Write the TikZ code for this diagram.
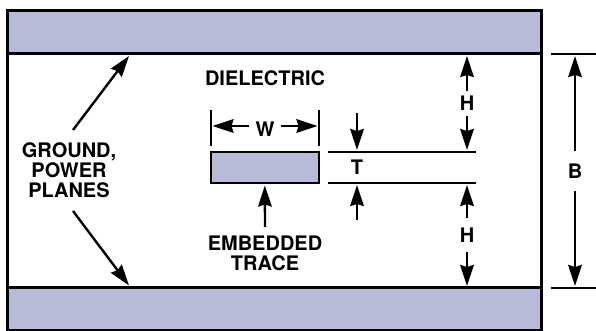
\documentclass[tikz,border=0pt]{standalone}
\usepackage{fontspec}
\setmainfont{TeX Gyre Heros}
\usetikzlibrary{arrows.meta}

\tikzset{
    plane/.style={draw=black, line width=2.8pt, fill=planeblue, inner sep=0pt, outer sep=0pt},
    dimline/.style={draw=black, line width=1.7pt},
    dimarrow/.style={draw=black, line width=2.4pt, -{Stealth[length=21pt, width=13.5pt, inset=2pt]}},
    dimlabel/.style={inner sep=0pt, outer sep=0pt, font=\fontsize{20}{20}\selectfont\bfseries, text height=14pt, text depth=0pt},
    textlabel/.style={inner sep=0pt, outer sep=0pt, align=center, font=\fontsize{20}{20}\selectfont\bfseries}
}
\definecolor{planeblue}{HTML}{B7BBD7}

\begin{document}
\begin{tikzpicture}[x=1pt, y=-1pt]
        \useasboundingbox (0,0) rectangle (596,331);

        % Draw the planes and the frame
        \node[plane, minimum width=534.3pt, minimum height=43pt] (topplane) at (274.45,32.2) {};
        \node[plane, minimum width=534.3pt, minimum height=42.3pt] (bottomplane) at (274.45,308.85) {};
        \draw[line width=2.8pt] (topplane.south west) -- (bottomplane.north west);
        \draw[line width=2.8pt] (topplane.south east) -- (bottomplane.north east);

        % Draw the trace
        \node[plane, line width=2pt, minimum width=108.3pt, minimum height=30.7pt] (trace) at (264.85,167.35) {};

        % Draw the text labels
        \node[textlabel] (dielectric) at (265,78) {DIELECTRIC};
        \node[textlabel] (groundlabel) at (69,170) {GROUND,\\POWER\\PLANES};
        \node[textlabel] (embedlabel) at (265,253) {EMBEDDED\\TRACE};

        % Draw the plane arrows
        \coordinate (upstart) at (73,130);
        \coordinate (uptip) at (129,56);
        \coordinate (downstart) at (73,211);
        \coordinate (downtip) at (129,285.5);
        \draw[dimarrow] (upstart) -- (uptip);
        \draw[dimarrow] (downstart) -- (downtip);
        \draw[dimarrow] (265,227) coordinate (embedstart) -- (trace.south |- 0,185.5);

        % Draw the extension lines
        \foreach \name/\xa/\ya/\xb/\yb in {wl/211/110/211/146, wr/319/110/319/146, ta/328/152/476/152, tb/328/183/476/183, bt/551/54/596/54, bb/551/288/596/288} {
            \coordinate (\name a) at (\xa,\ya);
            \coordinate (\name b) at (\xb,\yb);
            \draw[dimline] (\name a) -- (\name b);
        }

        % Draw W
        \node[dimlabel, text height=22pt, minimum width=32pt] (wlabel) at (265,126) {W};
        \coordinate (wlefttip) at (212.5,126);
        \coordinate (wrighttip) at (317.5,126);
        \draw[dimarrow] (wlabel.west) -- (wlefttip);
        \draw[dimarrow] (wlabel.east) -- (wrighttip);

        % Draw T
        \node[dimlabel] (tlabel) at (357,168) {T};
        \coordinate (tupstart) at (357,113);
        \coordinate (tuptip) at (357,150);
        \coordinate (tdownstart) at (357,220);
        \coordinate (tdowntip) at (357,185);
        \draw[dimarrow] (tupstart) -- (tuptip);
        \draw[dimarrow] (tdownstart) -- (tdowntip);

        % Draw H, twice
        \node[dimlabel, minimum height=25.5pt] (hupper) at (467,103.5) {H};
        \node[dimlabel, minimum height=34pt] (hlower) at (467,235) {H};
        \coordinate (hatip) at (467,56);
        \coordinate (hbtip) at (467,150);
        \coordinate (hctip) at (467,185);
        \coordinate (hdtip) at (467,286);
        \draw[dimarrow] (hupper.north) -- (hatip);
        \draw[dimarrow] (hupper.south) -- (hbtip);
        \draw[dimarrow] (hlower.north) -- (hctip);
        \draw[dimarrow] (hlower.south) -- (hdtip);

        % Draw B
        \node[dimlabel, minimum height=40pt] (blabel) at (575,171) {B};
        \coordinate (btoptip) at (575,56);
        \coordinate (bbottip) at (575,286);
        \draw[dimarrow] (blabel.north) -- (btoptip);
        \draw[dimarrow] (blabel.south) -- (bbottip);
    \end{tikzpicture}
\end{document}
